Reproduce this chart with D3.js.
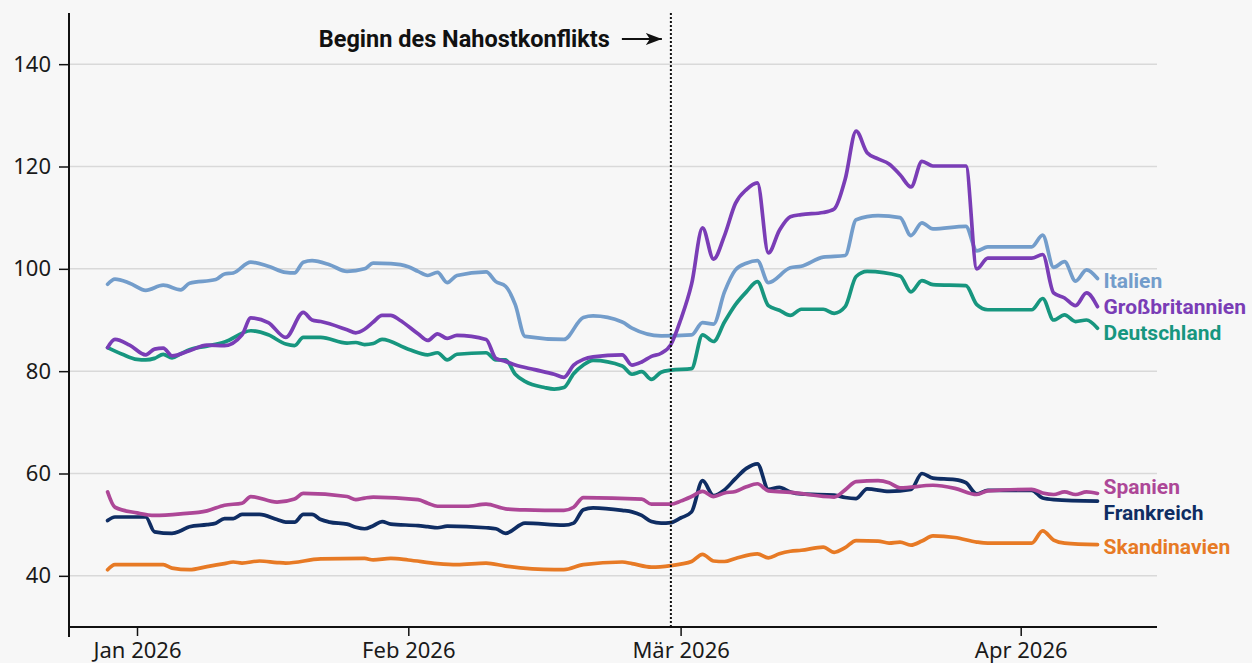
<!DOCTYPE html>
<html>
<head>
<meta charset="utf-8">
<script src="https://cdn.jsdelivr.net/npm/d3@7"></script>
<style>
  body { margin: 0; background: #f7f7f7; }
  svg { display: block; font-family: "Noto Sans", sans-serif; }
  .lbl { font-family: Roboto, sans-serif; font-weight: 700; }
</style>
</head>
<body>
<div id="chart"></div>
<script>
"use strict";

// --- data ---
const italien = [["2025-12-28",97.0],["2025-12-29",98.0],["2025-12-31",97.2],["2026-01-02",95.8],["2026-01-04",96.8],["2026-01-06",95.9],["2026-01-07",97.2],["2026-01-10",97.9],["2026-01-11",99.0],["2026-01-12",99.2],["2026-01-14",101.3],["2026-01-16",100.5],["2026-01-18",99.3],["2026-01-19",99.2],["2026-01-20",101.3],["2026-01-21",101.6],["2026-01-23",100.8],["2026-01-25",99.5],["2026-01-27",100.0],["2026-01-28",101.1],["2026-01-30",101.0],["2026-02-01",100.4],["2026-02-02",99.5],["2026-02-03",98.7],["2026-02-04",99.3],["2026-02-05",97.3],["2026-02-06",98.7],["2026-02-09",99.4],["2026-02-10",97.5],["2026-02-11",96.6],["2026-02-12",93.0],["2026-02-13",86.8],["2026-02-17",86.2],["2026-02-19",90.5],["2026-02-20",90.8],["2026-02-23",89.6],["2026-02-24",88.4],["2026-02-27",86.9],["2026-03-02",87.1],["2026-03-03",89.5],["2026-03-04",89.2],["2026-03-05",95.5],["2026-03-06",99.8],["2026-03-07",101.1],["2026-03-08",101.6],["2026-03-09",97.3],["2026-03-11",100.2],["2026-03-12",100.5],["2026-03-14",102.3],["2026-03-16",102.6],["2026-03-17",109.6],["2026-03-19",110.4],["2026-03-21",110.0],["2026-03-22",106.5],["2026-03-23",109.0],["2026-03-24",107.8],["2026-03-27",108.3],["2026-03-28",103.5],["2026-03-29",104.3],["2026-04-02",104.3],["2026-04-03",106.6],["2026-04-04",100.3],["2026-04-05",101.4],["2026-04-06",97.6],["2026-04-07",99.8],["2026-04-08",98.1]];

const grossbritannien = [["2025-12-28",84.6],["2025-12-29",86.2],["2025-12-31",85.1],["2026-01-02",83.2],["2026-01-03",84.3],["2026-01-04",84.5],["2026-01-05",83.0],["2026-01-07",84.0],["2026-01-09",85.1],["2026-01-11",85.0],["2026-01-13",87.1],["2026-01-14",90.4],["2026-01-16",89.5],["2026-01-18",86.6],["2026-01-20",91.5],["2026-01-21",90.0],["2026-01-22",89.7],["2026-01-25",88.1],["2026-01-26",87.5],["2026-01-27",88.2],["2026-01-28",89.6],["2026-01-29",90.9],["2026-01-30",90.9],["2026-01-31",90.0],["2026-02-02",87.3],["2026-02-03",86.0],["2026-02-04",87.3],["2026-02-05",86.4],["2026-02-06",87.0],["2026-02-09",86.2],["2026-02-10",82.5],["2026-02-11",81.9],["2026-02-12",81.2],["2026-02-14",80.3],["2026-02-16",79.4],["2026-02-17",78.8],["2026-02-18",81.2],["2026-02-19",82.3],["2026-02-20",82.8],["2026-02-23",83.2],["2026-02-24",81.2],["2026-02-25",81.8],["2026-02-26",82.9],["2026-02-27",83.5],["2026-02-28",85.2],["2026-03-01",90.0],["2026-03-02",97.0],["2026-03-03",108.0],["2026-03-04",101.9],["2026-03-05",106.5],["2026-03-06",112.8],["2026-03-07",115.5],["2026-03-08",116.8],["2026-03-09",103.1],["2026-03-10",107.5],["2026-03-11",110.2],["2026-03-12",110.6],["2026-03-14",111.0],["2026-03-15",111.7],["2026-03-16",117.5],["2026-03-17",126.9],["2026-03-18",122.7],["2026-03-19",121.5],["2026-03-20",120.5],["2026-03-21",118.4],["2026-03-22",116.0],["2026-03-23",121.0],["2026-03-24",120.1],["2026-03-27",120.1],["2026-03-28",100.0],["2026-03-29",102.1],["2026-04-02",102.1],["2026-04-03",102.8],["2026-04-04",95.3],["2026-04-05",94.3],["2026-04-06",92.8],["2026-04-07",95.3],["2026-04-08",92.6]];

const deutschland = [["2025-12-28",84.6],["2025-12-30",83.3],["2026-01-01",82.3],["2026-01-02",82.2],["2026-01-03",82.5],["2026-01-04",83.3],["2026-01-05",82.6],["2026-01-06",83.4],["2026-01-07",84.2],["2026-01-09",84.9],["2026-01-11",85.7],["2026-01-14",87.9],["2026-01-16",87.1],["2026-01-18",85.3],["2026-01-19",85.0],["2026-01-20",86.6],["2026-01-22",86.6],["2026-01-25",85.5],["2026-01-26",85.6],["2026-01-27",85.2],["2026-01-28",85.4],["2026-01-29",86.2],["2026-02-01",84.3],["2026-02-03",83.2],["2026-02-04",83.6],["2026-02-05",82.2],["2026-02-06",83.3],["2026-02-09",83.6],["2026-02-10",82.2],["2026-02-11",82.2],["2026-02-12",79.4],["2026-02-13",78.0],["2026-02-15",76.8],["2026-02-16",76.5],["2026-02-17",76.8],["2026-02-18",79.5],["2026-02-19",81.2],["2026-02-20",82.1],["2026-02-23",81.0],["2026-02-24",79.4],["2026-02-25",79.9],["2026-02-26",78.4],["2026-02-27",79.8],["2026-02-28",80.2],["2026-03-02",80.5],["2026-03-03",87.1],["2026-03-04",85.8],["2026-03-05",89.6],["2026-03-06",93.0],["2026-03-07",95.5],["2026-03-08",97.5],["2026-03-09",92.8],["2026-03-10",91.9],["2026-03-11",90.9],["2026-03-12",92.1],["2026-03-14",92.1],["2026-03-15",91.3],["2026-03-16",92.6],["2026-03-17",98.5],["2026-03-18",99.5],["2026-03-21",98.6],["2026-03-22",95.5],["2026-03-23",97.7],["2026-03-24",96.9],["2026-03-27",96.7],["2026-03-28",93.0],["2026-03-29",92.0],["2026-04-02",92.0],["2026-04-03",94.2],["2026-04-04",90.0],["2026-04-05",91.0],["2026-04-06",89.7],["2026-04-07",90.0],["2026-04-08",88.4]];

const spanien = [["2025-12-28",56.4],["2025-12-29",53.4],["2026-01-01",52.3],["2026-01-03",51.8],["2026-01-06",52.1],["2026-01-09",52.7],["2026-01-11",53.8],["2026-01-13",54.2],["2026-01-14",55.5],["2026-01-17",54.4],["2026-01-19",55.0],["2026-01-20",56.1],["2026-01-25",55.5],["2026-01-26",54.9],["2026-01-27",55.2],["2026-01-28",55.4],["2026-02-02",54.9],["2026-02-03",54.2],["2026-02-04",53.6],["2026-02-07",53.6],["2026-02-09",54.0],["2026-02-11",53.1],["2026-02-13",52.9],["2026-02-17",52.8],["2026-02-18",53.4],["2026-02-19",55.3],["2026-02-25",55.0],["2026-02-26",54.0],["2026-02-28",54.0],["2026-03-01",54.6],["2026-03-02",55.5],["2026-03-03",56.5],["2026-03-04",55.5],["2026-03-05",56.2],["2026-03-06",56.5],["2026-03-07",57.4],["2026-03-08",58.0],["2026-03-09",56.6],["2026-03-11",56.3],["2026-03-15",55.4],["2026-03-16",56.8],["2026-03-17",58.4],["2026-03-19",58.6],["2026-03-20",58.2],["2026-03-21",57.2],["2026-03-24",57.7],["2026-03-26",57.1],["2026-03-28",55.9],["2026-03-29",56.6],["2026-04-02",56.9],["2026-04-03",56.2],["2026-04-04",55.9],["2026-04-05",56.4],["2026-04-06",55.9],["2026-04-07",56.4],["2026-04-08",56.1]];

const frankreich = [["2025-12-28",50.8],["2025-12-29",51.5],["2026-01-02",51.5],["2026-01-03",48.6],["2026-01-05",48.3],["2026-01-06",48.8],["2026-01-07",49.6],["2026-01-09",50.0],["2026-01-10",50.3],["2026-01-11",51.2],["2026-01-12",51.2],["2026-01-13",52.0],["2026-01-15",52.0],["2026-01-17",51.0],["2026-01-18",50.5],["2026-01-19",50.5],["2026-01-20",52.0],["2026-01-21",52.0],["2026-01-22",51.0],["2026-01-23",50.5],["2026-01-25",50.1],["2026-01-26",49.5],["2026-01-27",49.2],["2026-01-28",49.8],["2026-01-29",50.6],["2026-01-30",50.1],["2026-02-02",49.8],["2026-02-03",49.6],["2026-02-04",49.4],["2026-02-05",49.7],["2026-02-09",49.4],["2026-02-10",49.2],["2026-02-11",48.3],["2026-02-13",50.3],["2026-02-17",49.9],["2026-02-18",50.3],["2026-02-19",52.9],["2026-02-20",53.3],["2026-02-23",52.8],["2026-02-24",52.5],["2026-02-25",51.8],["2026-02-26",50.6],["2026-02-27",50.3],["2026-02-28",50.4],["2026-03-01",51.3],["2026-03-02",52.5],["2026-03-03",58.6],["2026-03-04",55.7],["2026-03-05",56.8],["2026-03-06",59.0],["2026-03-07",61.0],["2026-03-08",61.9],["2026-03-09",56.9],["2026-03-10",57.3],["2026-03-11",56.4],["2026-03-12",56.0],["2026-03-15",55.8],["2026-03-16",55.3],["2026-03-17",55.1],["2026-03-18",57.0],["2026-03-20",56.5],["2026-03-22",56.9],["2026-03-23",60.0],["2026-03-24",59.1],["2026-03-26",58.8],["2026-03-27",58.2],["2026-03-28",56.0],["2026-03-29",56.7],["2026-04-02",56.7],["2026-04-03",55.2],["2026-04-04",54.9],["2026-04-08",54.6]];

const skandinavien = [["2025-12-28",41.2],["2025-12-29",42.2],["2026-01-04",42.2],["2026-01-05",41.5],["2026-01-07",41.2],["2026-01-09",41.8],["2026-01-11",42.4],["2026-01-12",42.7],["2026-01-13",42.5],["2026-01-15",42.9],["2026-01-17",42.6],["2026-01-18",42.5],["2026-01-22",43.3],["2026-01-27",43.4],["2026-01-28",43.1],["2026-01-30",43.4],["2026-02-01",43.1],["2026-02-04",42.4],["2026-02-06",42.2],["2026-02-09",42.5],["2026-02-11",41.9],["2026-02-16",41.2],["2026-02-17",41.2],["2026-02-19",42.2],["2026-02-23",42.7],["2026-02-24",42.4],["2026-02-26",41.7],["2026-02-28",42.0],["2026-03-01",42.3],["2026-03-02",42.8],["2026-03-03",44.2],["2026-03-04",42.9],["2026-03-05",42.8],["2026-03-06",43.4],["2026-03-08",44.3],["2026-03-09",43.5],["2026-03-10",44.3],["2026-03-11",44.8],["2026-03-12",45.0],["2026-03-14",45.6],["2026-03-15",44.6],["2026-03-16",45.5],["2026-03-17",46.9],["2026-03-19",46.8],["2026-03-20",46.4],["2026-03-21",46.6],["2026-03-22",46.0],["2026-03-23",46.8],["2026-03-24",47.8],["2026-03-26",47.5],["2026-03-28",46.6],["2026-03-29",46.4],["2026-04-02",46.4],["2026-04-03",48.8],["2026-04-04",47.0],["2026-04-05",46.4],["2026-04-08",46.1]];

const seriesNames = ["Skandinavien", "Frankreich", "Spanien", "Deutschland", "Italien", "Großbritannien"];
const seriesData = [skandinavien, frankreich, spanien, deutschland, italien, grossbritannien];
const seriesColors = ["#e77a25", "#0f2d63", "#ad4797", "#17967f", "#739dcb", "#7a3db6"];

const yTicks = [40, 60, 80, 100, 120, 140];
const xTickDates = ["2026-01-01", "2026-02-01", "2026-03-01", "2026-04-01"];
const xTickLabels = ["Jan 2026", "Feb 2026", "Mär 2026", "Apr 2026"];
const conflictDate = "2026-02-28";
const conflictText = "Beginn des Nahostkonflikts";

// --- layout ---
const cont = { width: 1252, height: 663, left: 69, right: 1157, top: 13, bottom: 627 };
const parse = d3.utcParse("%Y-%m-%d");

window.onload = function () {
    const svg = d3.select("#chart").append("svg")
        .attr("width", cont.width)
        .attr("height", cont.height);

    svg.append("rect").attr("width", cont.width).attr("height", cont.height).attr("fill", "#f7f7f7");

    // month spacing in the original isn't uniform, so use a polylinear time scale
    const xScale = d3.scaleUtc()
        .domain(["2025-12-28", "2026-01-01", "2026-02-01", "2026-03-01", "2026-04-01", "2026-04-08"].map(parse))
        .range([107.6, 137, 408.3, 680.6, 1020.7, 1097.5]);

    const yScale = d3.scaleLinear()
        .domain([30, 150])
        .range([cont.bottom, cont.top]);

    // grid
    svg.append("g")
        .selectAll("line")
        .data(yTicks)
        .enter().append("line")
        .attr("x1", cont.left).attr("x2", cont.right)
        .attr("y1", d => yScale(d)).attr("y2", d => yScale(d))
        .attr("stroke", "#d9d9d9")
        .attr("stroke-width", 1.5);

    // y axis
    const yAxis = d3.axisLeft(yScale).tickValues(yTicks).tickSize(10).tickPadding(8).tickSizeOuter(0);
    const gy = svg.append("g")
        .attr("transform", "translate(" + cont.left + ",0)")
        .call(yAxis);
    gy.select(".domain").remove();
    gy.selectAll(".tick line").attr("stroke", "#111").attr("stroke-width", 1.5);
    gy.selectAll(".tick text").attr("font-size", 22).attr("fill", "#1a1a1a").attr("font-family", "Noto Sans");

    svg.append("line")
        .attr("x1", cont.left).attr("x2", cont.left)
        .attr("y1", cont.top).attr("y2", cont.bottom + 10)
        .attr("stroke", "#111").attr("stroke-width", 2);

    // x axis
    const xAxis = d3.axisBottom(xScale)
        .tickValues(xTickDates.map(parse))
        .tickFormat((d, i) => xTickLabels[i])
        .tickSize(9).tickPadding(6).tickSizeOuter(0);
    const gx = svg.append("g")
        .attr("transform", "translate(0," + cont.bottom + ")")
        .call(xAxis);
    gx.select(".domain").attr("d", "M" + cont.left + ",0H" + cont.right).attr("stroke", "#111").attr("stroke-width", 2);
    gx.selectAll(".tick line").attr("stroke", "#111").attr("stroke-width", 1.5);
    gx.selectAll(".tick text").attr("font-size", 22).attr("fill", "#1a1a1a").attr("font-family", "Noto Sans");

    // lines
    const line = d3.line()
        .x(d => xScale(parse(d[0])))
        .y(d => yScale(d[1]))
        .curve(d3.curveMonotoneX);

    svg.append("g")
        .selectAll("path")
        .data(seriesData)
        .enter().append("path")
        .attr("d", line)
        .attr("fill", "none")
        .attr("stroke", (d, i) => seriesColors[i])
        .attr("stroke-width", 3.7)
        .attr("stroke-linejoin", "round")
        .attr("stroke-linecap", "round");

    // conflict marker
    const cx = xScale(parse(conflictDate));
    svg.append("line")
        .attr("x1", cx).attr("x2", cx)
        .attr("y1", cont.top).attr("y2", cont.bottom)
        .attr("stroke", "#111")
        .attr("stroke-width", 2)
        .attr("stroke-dasharray", "2 2");

    svg.append("text")
        .attr("x", cx - 61).attr("y", 47)
        .attr("text-anchor", "end")
        .attr("class", "lbl")
        .attr("font-size", 23.5)
        .attr("fill", "#111")
        .text(conflictText);

    svg.append("defs").append("marker")
        .attr("id", "arrow")
        .attr("viewBox", "0 0 16 12")
        .attr("refX", 16).attr("refY", 6)
        .attr("markerWidth", 16).attr("markerHeight", 12)
        .attr("markerUnits", "userSpaceOnUse")
        .attr("orient", "auto")
        .append("path")
        .attr("d", "M0,0L16,6L0,12L4,6Z")
        .attr("fill", "#111");

    svg.append("line")
        .attr("x1", cx - 49).attr("x2", cx - 9)
        .attr("y1", 39).attr("y2", 39)
        .attr("stroke", "#111")
        .attr("stroke-width", 2)
        .attr("marker-end", "url(#arrow)");

    // end labels, nudged apart when they collide
    const labels = seriesData.map((s, i) => {
        const last = s[s.length - 1];
        return { name: seriesNames[i], color: seriesColors[i], x: xScale(parse(last[0])) + 6, y: yScale(last[1]) };
    }).sort((a, b) => a.y - b.y);
    const gap = 26;
    for (let k = 0; k < 50; k++) {
        for (let i = 1; i < labels.length; i++) {
            const diff = labels[i].y - labels[i - 1].y;
            if (diff < gap) {
                const push = (gap - diff) / 2;
                labels[i].y += push;
                labels[i - 1].y -= push;
            }
        }
    }
    svg.append("g")
        .selectAll("text")
        .data(labels)
        .enter().append("text")
        .attr("class", "lbl")
        .attr("x", d => d.x)
        .attr("y", d => d.y + 2.5)
        .attr("dy", "0.35em")
        .attr("font-size", 21)
        .attr("fill", d => d.color)
        .text(d => d.name);
}
</script>
</body>
</html>
